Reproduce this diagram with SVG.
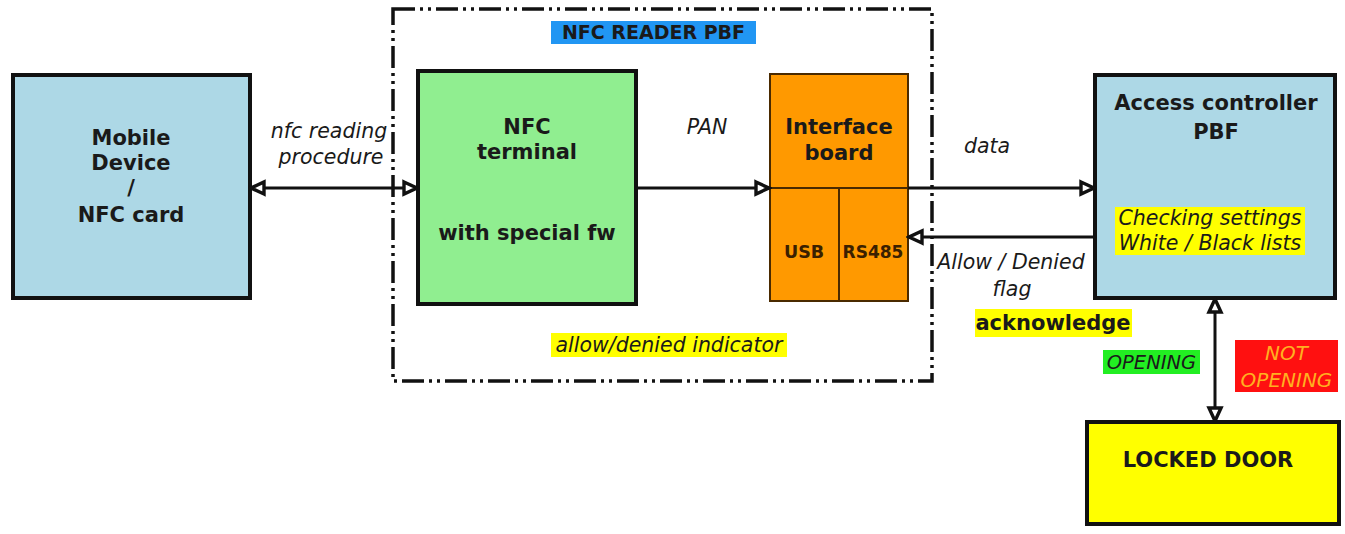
<svg xmlns="http://www.w3.org/2000/svg" width="1345" height="534" viewBox="0 0 1345 534">
<style>
text{font-family:"DejaVu Sans","Liberation Sans",sans-serif;fill:#1a1a1a;text-anchor:middle}
.b{font-weight:bold;font-size:21px}
.i{font-style:italic;font-size:20.5px}
.box{stroke:#111;stroke-width:4}
.ln{stroke:#111;stroke-width:3;fill:none}
</style>
<defs>
<marker id="ah" markerUnits="userSpaceOnUse" markerWidth="20" markerHeight="20" viewBox="0 0 20 20" refX="17" refY="10" orient="auto-start-reverse">
<path d="M4,4 L17,10 L4,16 z" fill="#fff" stroke="#111" stroke-width="3.4" stroke-linejoin="miter"/>
</marker>
</defs>
<rect width="1345" height="534" fill="#fff"/>

<g id="reader-container">
<rect x="393" y="9" width="539" height="372" fill="none" stroke="#111" stroke-width="3.5" stroke-dasharray="22,5,3,5,3,5"/>
<rect x="551" y="21" width="205" height="23" fill="#2196f3"/>
<text x="653.5" y="39" style="font-weight:bold;font-size:19px">NFC READER PBF</text>
<rect x="551" y="333" width="236" height="24" fill="#ffff00"/>
<text class="i" x="669" y="352">allow/denied indicator</text>
</g>

<g id="mobile">
<rect class="box" x="13" y="75" width="237" height="223" fill="#add8e6"/>
<text class="b" x="131" y="145">Mobile</text>
<text class="b" x="131" y="170">Device</text>
<text class="b" x="131" y="195">/</text>
<text class="b" x="131" y="222">NFC card</text>
</g>

<g id="nfc-terminal">
<rect class="box" x="418" y="71" width="218" height="233" fill="#90ee90"/>
<text class="b" x="527" y="134">NFC</text>
<text class="b" x="527" y="159">terminal</text>
<text class="b" x="527" y="240">with special fw</text>
</g>

<g id="interface-board">
<rect x="770" y="74" width="138" height="227" fill="#ff9900" stroke="#4a2a00" stroke-width="2"/>
<line x1="770" y1="188" x2="908" y2="188" stroke="#4a2a00" stroke-width="2"/>
<line x1="839" y1="188" x2="839" y2="301" stroke="#4a2a00" stroke-width="2"/>
<text class="b" x="839" y="134">Interface</text>
<text class="b" x="839" y="160">board</text>
<text x="804" y="258" style="font-weight:bold;font-size:17.5px;fill:#3a2000">USB</text>
<text x="873" y="258" style="font-weight:bold;font-size:17px;fill:#3a2000">RS485</text>
</g>

<g id="access-controller">
<rect class="box" x="1095" y="75" width="240" height="223" fill="#add8e6"/>
<text class="b" x="1216" y="110">Access controller</text>
<text class="b" x="1216" y="139">PBF</text>
<rect x="1115" y="207" width="190" height="48" fill="#ffff00"/>
<text class="i" x="1210" y="225">Checking settings</text>
<text class="i" x="1210" y="250">White / Black lists</text>
</g>

<g id="locked-door">
<rect class="box" x="1087" y="422" width="252" height="102" fill="#ffff00"/>
<text class="b" x="1208" y="467">LOCKED DOOR</text>
</g>

<g id="connectors">
<path class="ln" d="M251,188 H417" marker-start="url(#ah)" marker-end="url(#ah)"/>
<path class="ln" d="M636,188 H769" marker-end="url(#ah)"/>
<path class="ln" d="M908,188 H1094" marker-end="url(#ah)"/>
<path class="ln" d="M1095,237 H909" marker-end="url(#ah)"/>
<path class="ln" d="M1215,299 V421" marker-start="url(#ah)" marker-end="url(#ah)"/>
</g>

<g id="labels">
<text class="i" x="329" y="138">nfc reading</text>
<text class="i" x="331" y="164">procedure</text>
<text class="i" x="707" y="134">PAN</text>
<text class="i" x="987" y="153">data</text>
<text class="i" x="1011" y="269">Allow / Denied</text>
<text class="i" x="1012" y="296">flag</text>
<rect x="975" y="309" width="157" height="28" fill="#ffff00"/>
<text class="b" x="1053" y="330">acknowledge</text>
<rect x="1103" y="350" width="97" height="24" fill="#22ee22"/>
<text class="i" x="1151.5" y="369" style="font-size:19.5px">OPENING</text>
<rect x="1235" y="340" width="103" height="52" fill="#ff1010"/>
<text class="i" x="1286.5" y="360" style="font-size:20px;fill:#ffb020">NOT</text>
<text class="i" x="1286.5" y="387" style="font-size:20px;fill:#ffb020">OPENING</text>
</g>
</svg>
